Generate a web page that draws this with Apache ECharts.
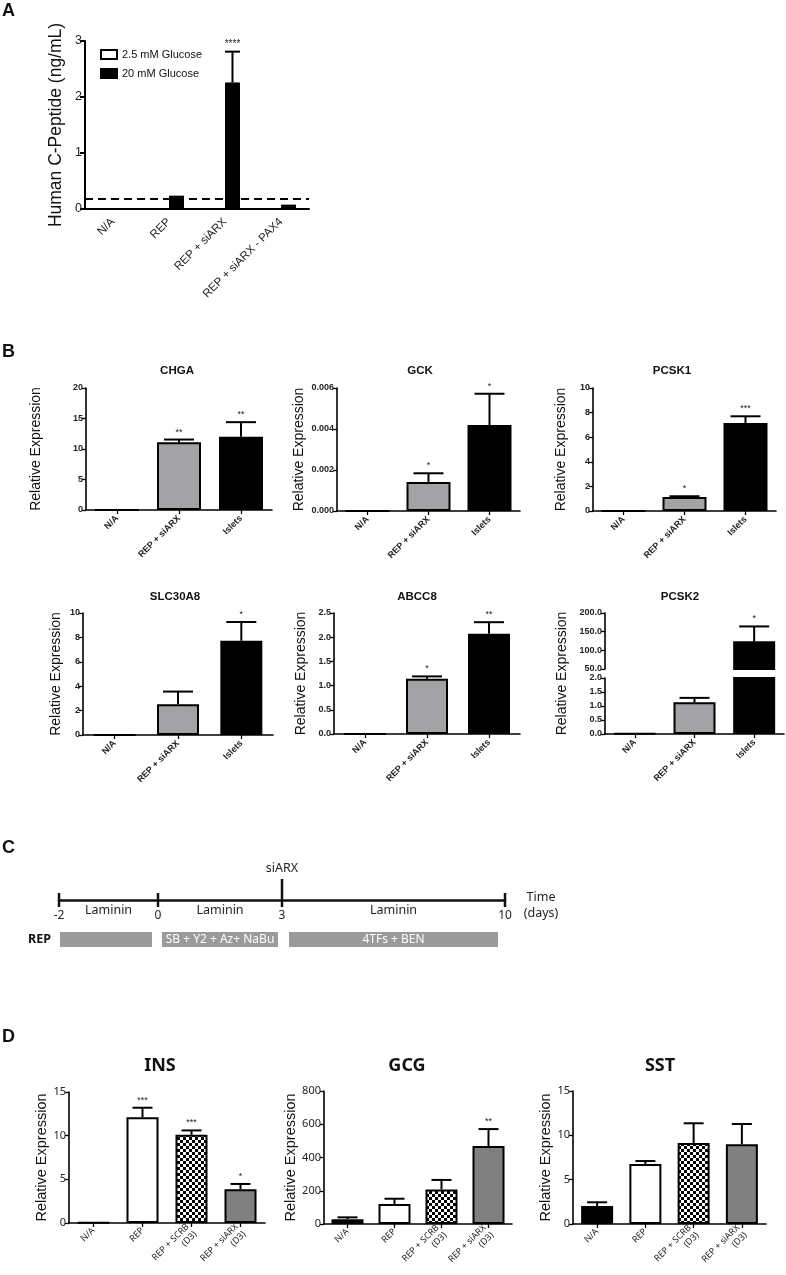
<!DOCTYPE html>
<html><head><meta charset="utf-8">
<script src="https://cdn.jsdelivr.net/npm/echarts@6/dist/echarts.min.js"></script>
<style>html,body{margin:0;padding:0;background:#fff}#c{width:786px;height:1275px}</style>
</head><body><div id="c"></div>
<script>
// ================= DATA =================
// Panel A
const aCategories = ['N/A', 'REP', 'REP + siARX', 'REP + siARX - PAX4'];
const aLowGlucose = [0, 0, 0, 0];
const aHighGlucose = [0, 0.21, 2.26, 0.05];
const aHighGlucoseErr = [0, 0.01, 0.55, 0.01];
const aHighGlucoseStars = ['', '', '****', ''];
const aDetectionLimit = 0.19;
const aLegend = ['2.5 mM Glucose', '20 mM Glucose'];

// Panel B
const bCategories = ['N/A', 'REP + siARX', 'Islets'];
const chgaValues = [0, 11.1, 12.0];
const chgaErr = [0, 0.45, 2.4];
const chgaStars = ['', '**', '**'];
const gckValues = [0, 0.00142, 0.00419];
const gckErr = [0, 0.00042, 0.00153];
const gckStars = ['', '*', '*'];
const pcsk1Values = [0, 1.13, 7.16];
const pcsk1Err = [0, 0.07, 0.54];
const pcsk1Stars = ['', '*', '***'];
const slc30a8Values = [0, 2.52, 7.72];
const slc30a8Err = [0, 1.04, 1.54];
const slc30a8Stars = ['', '', '*'];
const abcc8Values = [0, 1.14, 2.07];
const abcc8Err = [0, 0.05, 0.24];
const abcc8Stars = ['', '*', '**'];
const pcsk2Values = [0.02, 1.13, 124];
const pcsk2Err = [0, 0.16, 40];
const pcsk2Stars = ['', '', '*'];

// Panel C
const cDays = [-2, 0, 3, 10];
const cMedia = ['Laminin', 'Laminin', 'Laminin'];
const cTreatments = ['', 'SB + Y2 + Az+ NaBu', '4TFs + BEN'];
const cEventDay = 3;
const cEventLabel = 'siARX';

// Panel D
const dCategories = ['N/A', 'REP', 'REP + SCRB\n(D3)', 'REP + siARX\n(D3)'];
const insValues = [0.05, 12.1, 10.1, 3.87];
const insErr = [0, 1.1, 0.5, 0.6];
const insStars = ['', '***', '***', '*'];
const gcgValues = [28, 120, 208, 469];
const gcgErr = [12, 32, 57, 102];
const gcgStars = ['', '', '', '**'];
const sstValues = [2.03, 6.77, 9.13, 8.99];
const sstErr = [0.42, 0.33, 2.23, 2.29];
const sstStars = ['', '', '', ''];

// ================= STYLE =================
const LS = '"Liberation Sans", Arial, sans-serif';
const NS = '"Noto Sans", "Open Sans", sans-serif';
function checker() {
  const c = document.createElement('canvas'); c.width = 6; c.height = 6;
  const g = c.getContext('2d');
  g.fillStyle = '#fff'; g.fillRect(0, 0, 6, 6);
  g.fillStyle = '#000'; g.fillRect(0, 0, 3, 3); g.fillRect(3, 3, 3, 3);
  return { image: c, repeat: 'repeat' };
}
const B_COLORS = ['#a3a3a6', '#a3a3a6', '#000000'];
const D_COLORS = ['#000000', '#ffffff', checker(), '#808080'];

const option = {
  animation: false, backgroundColor: '#ffffff',
  title: [], grid: [], xAxis: [], yAxis: [], series: [],
  legend: {
    left: 100, top: 49, padding: 0, orient: 'vertical', icon: 'rect',
    itemWidth: 16, itemHeight: 9, itemGap: 8, selectedMode: false,
    data: aLegend, textStyle: { fontSize: 11, fontFamily: LS, color: '#111' }
  }
};

function addTitle(text, left, top, size, weight, family, align, color) {
  option.title.push({ text, left, top, padding: 0, textAlign: align || 'left',
    textStyle: { fontSize: size, fontWeight: weight, fontFamily: family, color: color || '#111', lineHeight: size * 1.25 } });
}

function errSeries(gi, values, errors, stars, o) {
  return {
    type: 'custom', xAxisIndex: gi, yAxisIndex: gi, silent: true, z: 5,
    data: values.map((v, i) => [i, v, v + (errors[i] || 0)]),
    renderItem: (params, api) => {
      const k = params.dataIndex;
      if (o.mask && !o.mask[k]) return null;
      const v = api.value(1), t = api.value(2);
      const p0 = api.coord([k, v]), p1 = api.coord([k, t]);
      const x = p0[0] + (o.xOff || 0);
      const ch = [];
      if (t > v) {
        ch.push({ type: 'line', shape: { x1: x, y1: p0[1], x2: x, y2: p1[1] }, style: { stroke: '#000', lineWidth: o.lw } });
        ch.push({ type: 'line', shape: { x1: x - o.cap / 2, y1: p1[1], x2: x + o.cap / 2, y2: p1[1] }, style: { stroke: '#000', lineWidth: o.lw } });
      }
      const s = stars && stars[k];
      if (s) ch.push({ type: 'text', x: x, y: p1[1] - o.starGap,
        style: { text: s, align: 'center', verticalAlign: 'bottom', fontSize: o.starFont, fontFamily: LS, fill: '#222' } });
      return { type: 'group', children: ch };
    }
  };
}

function barPanel(c) {
  const gi = option.grid.length;
  option.grid.push({ left: c.left, top: c.top, width: c.width, height: c.height });
  option.xAxis.push({
    gridIndex: gi, type: 'category', data: c.categories,
    axisLine: { show: c.showXLine !== false, lineStyle: { color: '#000', width: c.axisWidth } },
    axisTick: { show: !!c.xTicks, alignWithLabel: true, length: 4, lineStyle: { color: '#000', width: c.axisWidth * 0.8 } },
    axisLabel: { show: c.showXLabels !== false, interval: 0, rotate: 45, margin: c.xMargin, fontSize: c.xFont,
      fontWeight: c.xWeight, fontFamily: c.xFamily, color: '#222', lineHeight: c.xFont * 1.2 },
    splitLine: { show: false }
  });
  option.yAxis.push({
    gridIndex: gi, type: 'value', min: c.min, max: c.max, interval: c.interval,
    name: c.name || '', nameLocation: 'middle', nameGap: c.nameGap,
    nameTextStyle: { fontSize: c.nameSize, fontFamily: LS, color: '#111' },
    axisLine: { show: true, lineStyle: { color: '#000', width: c.axisWidth } },
    axisTick: { show: true, length: 4, lineStyle: { color: '#000', width: c.axisWidth * 0.8 } },
    axisLabel: { margin: 3, fontSize: c.yFont, fontWeight: c.yWeight, fontFamily: c.yFamily, color: '#222',
      formatter: v => Number(v).toFixed(c.decimals || 0) },
    splitLine: { show: false }
  });
  option.series.push({
    type: 'bar', xAxisIndex: gi, yAxisIndex: gi, barWidth: c.barWidth, silent: true,
    data: c.values.map((v, i) => (c.barMask && !c.barMask[i]) ? null : ({ value: v, itemStyle: { color: c.colors[i] } })),
    itemStyle: { borderColor: '#000', borderWidth: c.borderWidth }
  });
  option.series.push(errSeries(gi, c.values, c.errors, c.stars,
    { mask: c.errMask, lw: c.errWidth, cap: c.cap, starGap: 3, starFont: c.starFont }));
  return gi;
}

function nameOnly(left, top, width, height, name, nameGap, nameSize) {
  const gi = option.grid.length;
  option.grid.push({ left, top, width, height });
  option.xAxis.push({ gridIndex: gi, type: 'category', data: bCategories, show: false });
  option.yAxis.push({ gridIndex: gi, type: 'value', min: 0, max: 1, name, nameLocation: 'middle', nameGap,
    nameTextStyle: { fontSize: nameSize, fontFamily: LS, color: '#111' },
    axisLine: { show: false }, axisTick: { show: false }, axisLabel: { show: false }, splitLine: { show: false } });
}

// ================= PANEL LETTERS =================
addTitle('A', 2, 0, 18, 'bold', LS, 'left');
addTitle('B', 2, 341, 18, 'bold', LS, 'left');
addTitle('C', 2, 837, 18, 'bold', LS, 'left');
addTitle('D', 2, 1026, 18, 'bold', LS, 'left');

// ================= PANEL A =================
(function () {
  const gi = option.grid.length;
  option.grid.push({ left: 85, top: 41, width: 224, height: 168 });
  option.xAxis.push({ gridIndex: gi, type: 'category', data: aCategories,
    axisLine: { lineStyle: { color: '#000', width: 2 } }, axisTick: { show: false },
    axisLabel: { interval: 0, rotate: 45, margin: 11, fontSize: 11.5, fontFamily: LS, color: '#222' } });
  option.yAxis.push({ gridIndex: gi, type: 'value', min: 0, max: 3, interval: 1,
    name: 'Human C-Peptide (ng/mL)', nameLocation: 'middle', nameGap: 20,
    nameTextStyle: { fontSize: 17.5, fontFamily: LS, color: '#111' },
    axisLine: { show: true, lineStyle: { color: '#000', width: 2 } },
    axisTick: { show: true, length: 5, lineStyle: { color: '#000', width: 2 } },
    axisLabel: { margin: 3, fontSize: 12.5, fontFamily: LS, color: '#222' }, splitLine: { show: false } });
  option.series.push({ name: aLegend[0], type: 'bar', xAxisIndex: gi, yAxisIndex: gi, barWidth: 15, barGap: '0%',
    data: aLowGlucose, itemStyle: { color: '#ffffff', borderColor: '#000', borderWidth: 2 }, silent: true });
  option.series.push({ name: aLegend[1], type: 'bar', xAxisIndex: gi, yAxisIndex: gi, barWidth: 15, barGap: '0%',
    data: aHighGlucose, itemStyle: { color: '#000000', borderColor: '#000', borderWidth: 1 }, silent: true,
    markLine: { silent: true, symbol: 'none', label: { show: false },
      lineStyle: { type: [8, 5], color: '#000', width: 2 }, data: [{ yAxis: aDetectionLimit }] } });
  option.series.push(errSeries(gi, aHighGlucose, aHighGlucoseErr, aHighGlucoseStars,
    { xOff: 7.5, lw: 2, cap: 15, starGap: 2, starFont: 10 }));
})();

// ================= PANEL B =================
const bCommon = { categories: bCategories, colors: B_COLORS, axisWidth: 1.6, xTicks: true, xMargin: 7, xFont: 9,
  xWeight: 'bold', xFamily: LS, yFont: 9, yWeight: 'bold', yFamily: LS, nameSize: 14, borderWidth: 2,
  errWidth: 2, cap: 30, starFont: 9 };
addTitle('CHGA', 177, 364, 11.5, 'bold', LS, 'center');
barPanel(Object.assign({}, bCommon, { left: 86, top: 388, width: 186, height: 122, values: chgaValues, errors: chgaErr,
  stars: chgaStars, min: 0, max: 20, interval: 5, name: 'Relative Expression', nameGap: 43, barWidth: 44 }));
addTitle('GCK', 420, 364, 11.5, 'bold', LS, 'center');
barPanel(Object.assign({}, bCommon, { left: 337, top: 388, width: 183, height: 123, values: gckValues, errors: gckErr,
  stars: gckStars, min: 0, max: 0.006, interval: 0.002, decimals: 3, name: 'Relative Expression', nameGap: 31, barWidth: 44 }));
addTitle('PCSK1', 672, 364, 11.5, 'bold', LS, 'center');
barPanel(Object.assign({}, bCommon, { left: 593, top: 388, width: 183, height: 123, values: pcsk1Values, errors: pcsk1Err,
  stars: pcsk1Stars, min: 0, max: 10, interval: 2, name: 'Relative Expression', nameGap: 25, barWidth: 44 }));

addTitle('SLC30A8', 175, 590, 11.5, 'bold', LS, 'center');
barPanel(Object.assign({}, bCommon, { left: 83, top: 613, width: 190, height: 122, values: slc30a8Values, errors: slc30a8Err,
  stars: slc30a8Stars, min: 0, max: 10, interval: 2, name: 'Relative Expression', nameGap: 20, barWidth: 42 }));
addTitle('ABCC8', 417, 590, 11.5, 'bold', LS, 'center');
barPanel(Object.assign({}, bCommon, { left: 334, top: 613, width: 186, height: 121, values: abcc8Values, errors: abcc8Err,
  stars: abcc8Stars, min: 0, max: 2.5, interval: 0.5, decimals: 1, name: 'Relative Expression', nameGap: 26, barWidth: 42 }));
addTitle('PCSK2', 680, 590, 11.5, 'bold', LS, 'center');
// broken axis: upper segment (only the Islets bar reaches it)
barPanel(Object.assign({}, bCommon, { left: 605, top: 613, width: 179, height: 56, values: pcsk2Values, errors: pcsk2Err,
  stars: pcsk2Stars, min: 50, max: 200, interval: 50, decimals: 1, barWidth: 42, showXLine: false, showXLabels: false,
  xTicks: false, barMask: [false, false, true], errMask: [false, false, true] }));
// lower segment (error bars only where they stay below the break)
barPanel(Object.assign({}, bCommon, { left: 605, top: 678, width: 179, height: 56, values: pcsk2Values, errors: pcsk2Err,
  stars: ['', '', ''], min: 0, max: 2, interval: 0.5, decimals: 1, barWidth: 42, errMask: [true, true, false] }));
nameOnly(605, 613, 179, 121, 'Relative Expression', 36, 14);

// ================= PANEL C =================
const C_SEG_LAYOUT = [{ left: 59, width: 99 }, { left: 158, width: 124 }, { left: 282, width: 223 }];
const C_BAR_INSET = [[1, 6], [4, 4], [7, 7]];
for (let i = 0; i < cDays.length - 1; i++) {
  const gi = option.grid.length;
  const last = i === cDays.length - 2;
  option.grid.push({ left: C_SEG_LAYOUT[i].left, top: 870, width: C_SEG_LAYOUT[i].width, height: 30 });
  option.xAxis.push({ gridIndex: gi, type: 'value', min: cDays[i], max: cDays[i + 1], interval: cDays[i + 1] - cDays[i],
    axisLine: { show: true, lineStyle: { color: '#111', width: 2.5 } }, axisTick: { show: false },
    axisLabel: { showMinLabel: true, showMaxLabel: last, margin: 10, fontSize: 12, fontFamily: NS, color: '#222' },
    splitLine: { show: false } });
  option.yAxis.push({ gridIndex: gi, type: 'value', min: 0, max: 1, show: false });
  option.series.push({
    type: 'custom', xAxisIndex: gi, yAxisIndex: gi, silent: true, z: 5,
    data: [[cDays[i], 0]],
    renderItem: (params, api) => {
      const s = cDays[i], e = cDays[i + 1];
      const a = api.coord([s, 0]), b = api.coord([e, 0]);
      const y = a[1];
      const ch = [];
      const tick = (x, day) => {
        ch.push({ type: 'line', shape: { x1: x, y1: y - (day === cEventDay ? 21 : 7), x2: x, y2: y + 7 },
          style: { stroke: '#111', lineWidth: 2.5 } });
        if (day === cEventDay) ch.push({ type: 'text', x: x, y: y - 25,
          style: { text: cEventLabel, align: 'center', verticalAlign: 'bottom', fontSize: 12.5, fontFamily: NS, fill: '#222' } });
      };
      tick(a[0], s);
      if (last) tick(b[0], e);
      ch.push({ type: 'text', x: (a[0] + b[0]) / 2, y: y + 10,
        style: { text: cMedia[i], align: 'center', verticalAlign: 'middle', fontSize: 12.5, fontFamily: NS, fill: '#222' } });
      const x0 = a[0] + C_BAR_INSET[i][0], x1 = b[0] - C_BAR_INSET[i][1];
      ch.push({ type: 'rect', shape: { x: x0, y: y + 32, width: x1 - x0, height: 15 }, style: { fill: '#9b9b9b' } });
      if (cTreatments[i]) ch.push({ type: 'text', x: (x0 + x1) / 2, y: y + 40,
        style: { text: cTreatments[i], align: 'center', verticalAlign: 'middle', fontSize: 12, fontFamily: NS, fill: '#ffffff' } });
      return { type: 'group', children: ch };
    }
  });
}
addTitle('Time\n(days)', 541, 890, 12.5, 'normal', NS, 'center', '#222');
addTitle('REP', 28, 932, 12.5, 'bold', NS, 'left', '#111');

// ================= PANEL D =================
const dCommon = { categories: dCategories, colors: D_COLORS, axisWidth: 1.6, xTicks: true, xMargin: 6, xFont: 9,
  xWeight: 'normal', xFamily: NS, yFont: 11, yWeight: 'normal', yFamily: NS, nameSize: 14.5, borderWidth: 2,
  errWidth: 2, cap: 20, starFont: 9, barWidth: 32, name: 'Relative Expression' };
addTitle('INS', 160, 1055, 18, 'bold', NS, 'center');
barPanel(Object.assign({}, dCommon, { left: 69, top: 1092, width: 196, height: 131, values: insValues, errors: insErr,
  stars: insStars, min: 0, max: 15, interval: 5, nameGap: 17 }));
addTitle('GCG', 407, 1055, 18, 'bold', NS, 'center');
barPanel(Object.assign({}, dCommon, { left: 324, top: 1091, width: 188, height: 133, values: gcgValues, errors: gcgErr,
  stars: gcgStars, min: 0, max: 800, interval: 200, nameGap: 22 }));
addTitle('SST', 660, 1055, 18, 'bold', NS, 'center');
barPanel(Object.assign({}, dCommon, { left: 573, top: 1091, width: 193, height: 133, values: sstValues, errors: sstErr,
  stars: sstStars, min: 0, max: 15, interval: 5, nameGap: 20 }));

const chart = echarts.init(document.getElementById('c'), null, { renderer: 'canvas' });
chart.setOption(option);
</script>
</body></html>
